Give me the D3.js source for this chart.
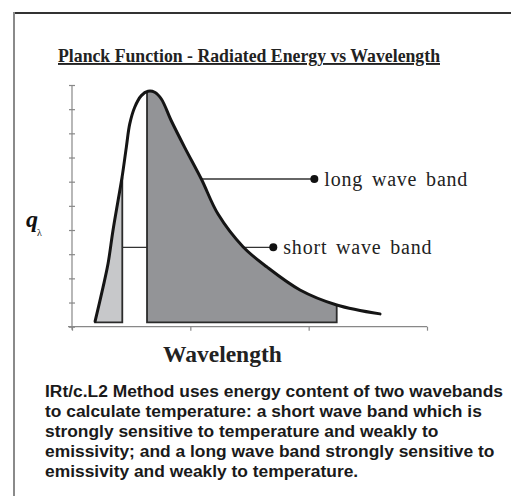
<!DOCTYPE html>
<html>
<head>
<meta charset="utf-8">
<script src="https://cdn.jsdelivr.net/npm/d3@7"></script>
<style>
  html, body { margin: 0; padding: 0; background: #fff; }
  svg { display: block; }
</style>
</head>
<body>
<svg id="chart" width="511" height="496"></svg>
<script>
// ---- data (arbitrary units) ----
const curveX = [0.195, 0.262, 0.304, 0.346, 0.389, 0.423, 0.459, 0.488, 0.530, 0.586, 0.642, 0.699, 0.755, 0.839, 0.952, 1.093, 1.234, 1.445, 1.645, 1.927, 2.237, 2.603];
const curveY = [0.22, 1.63, 2.59, 3.97, 5.21, 6.18, 7.42, 8.39, 9.08, 9.56, 9.74, 9.70, 9.42, 8.52, 7.42, 6.11, 4.66, 3.31, 2.48, 1.52, 0.90, 0.53];
const bandNames = ["short wave band", "long wave band"];
const bandStart = [0.195, 0.634];
const bandEnd = [0.425, 2.237];
const bandStartTop = [0.22, 9.74];
const bandEndTop = [6.18, 0.90];
const bandBase = 0.18;
const labelY = [3.285, 6.11];      // leader line level
const labelDotX = [1.701, 2.048];  // dot position
const xTicks = [0, 1, 2, 3];
const yTicks = [0, 1, 2, 3, 4, 5, 6, 7, 8, 9, 10];
const titleText = "Planck Function - Radiated Energy vs Wavelength";
const xLabel = "Wavelength";
const yLabelMain = "q";
const yLabelSub = "λ";
const caption = [
  "IRt/c.L2 Method uses energy content of two wavebands",
  "to calculate temperature: a short wave band which is",
  "strongly sensitive to temperature and weakly to",
  "emissivity; and a long wave band strongly sensitive to",
  "emissivity and weakly to temperature."
];

// ---- drawing ----
const svg = d3.select("#chart");
const x = d3.scaleLinear().domain([0, 3]).range([72, 427]);
const y = d3.scaleLinear().domain([0, 10]).range([326.7, 85]);
const pts = curveX.map((v, i) => [v, curveY[i]]);

// frame
svg.append("line").attr("x1", 14).attr("x2", 511).attr("y1", 13).attr("y2", 13)
  .attr("stroke", "#333").attr("stroke-width", 2);
svg.append("line").attr("x1", 14).attr("x2", 14).attr("y1", 12).attr("y2", 496)
  .attr("stroke", "#8a8a8a").attr("stroke-width", 2);

// title
svg.append("text").attr("x", 58).attr("y", 62)
  .attr("font-family", "Liberation Serif, Times New Roman, serif")
  .attr("font-weight", "bold").attr("font-size", 19)
  .attr("textLength", 382).attr("lengthAdjust", "spacingAndGlyphs")
  .attr("text-decoration", "underline").attr("fill", "#222")
  .text(titleText);

// axes
const yAxis = svg.append("g").attr("transform", `translate(${x(0)},0)`)
  .call(d3.axisLeft(y).tickValues(yTicks).tickSize(6).tickSizeOuter(0).tickFormat(""));
yAxis.selectAll(".tick line").attr("x1", 3).attr("x2", -3);
yAxis.selectAll("line, path").attr("stroke", "#888").attr("stroke-width", 1.2);
yAxis.select(".domain").attr("d", `M0,${y(10)}V${y(0) + 3}`);

const xAxis = svg.append("g").attr("transform", `translate(0,${y(0)})`)
  .call(d3.axisBottom(x).tickValues(xTicks).tickSize(4).tickSizeOuter(0).tickFormat(""));
xAxis.selectAll("line, path").attr("stroke", "#888").attr("stroke-width", 1.2);
xAxis.select(".domain").attr("d", `M${x(0) - 4},0H${x(3)}`);

const curveGen = d3.line().x(d => x(d[0])).y(d => y(d[1])).curve(d3.curveCatmullRom.alpha(0.5));
const areaGen = d3.area().x(d => x(d[0])).y0(y(bandBase)).y1(d => y(d[1])).curve(d3.curveCatmullRom.alpha(0.5));
const defs = svg.append("defs");
const fills = ["#c7c8ca", "#939497"];

function drawBand(i) {
  const cid = "clip" + i;
  defs.append("clipPath").attr("id", cid).append("rect")
    .attr("x", x(bandStart[i])).attr("width", x(bandEnd[i]) - x(bandStart[i]))
    .attr("y", 0).attr("height", y(bandBase));
  svg.append("path").datum(pts).attr("d", areaGen)
    .attr("fill", fills[i]).attr("clip-path", `url(#${cid})`);
  const outline = d3.line()([
    [x(bandStart[i]), y(bandStartTop[i])],
    [x(bandStart[i]), y(bandBase)],
    [x(bandEnd[i]), y(bandBase)],
    [x(bandEnd[i]), y(bandEndTop[i])]
  ]);
  svg.append("path").attr("d", outline).attr("fill", "none")
    .attr("stroke", "#2b2b2b").attr("stroke-width", 1.8);
}

// short band
drawBand(0);
// leader lines (under long band fill)
bandNames.forEach((n, i) => {
  svg.append("line")
    .attr("x1", x(i === 0 ? bandEnd[0] : bandStart[1])).attr("x2", x(labelDotX[i]))
    .attr("y1", y(labelY[i])).attr("y2", y(labelY[i]))
    .attr("stroke", "#333").attr("stroke-width", 1.3);
});
// long band
drawBand(1);

// curve
svg.append("path").datum(pts).attr("d", curveGen)
  .attr("fill", "none").attr("stroke", "#151515").attr("stroke-width", 3)
  .attr("stroke-linecap", "round");

// dots and labels
bandNames.forEach((n, i) => {
  svg.append("circle").attr("cx", x(labelDotX[i])).attr("cy", y(labelY[i]))
    .attr("r", 4).attr("fill", "#111");
  svg.append("text").attr("x", x(labelDotX[i]) + 10).attr("y", y(labelY[i]) + 6.5)
    .attr("font-family", "Liberation Serif, Times New Roman, serif")
    .attr("font-size", 20).attr("fill", "#222")
    .attr("letter-spacing", 0.8).attr("word-spacing", 3)
    .text(n);
});

// y label
svg.append("text").attr("x", 26).attr("y", 227)
  .attr("font-family", "Liberation Serif, Times New Roman, serif")
  .attr("font-weight", "bold").attr("font-style", "italic")
  .attr("font-size", 24).attr("fill", "#111").text(yLabelMain);
svg.append("text").attr("x", 37).attr("y", 236)
  .attr("font-family", "Liberation Serif, Times New Roman, serif")
  .attr("font-size", 10).attr("fill", "#111").text(yLabelSub);

// x label
svg.append("text").attr("x", 163).attr("y", 361.5)
  .attr("font-family", "Liberation Serif, Times New Roman, serif")
  .attr("font-weight", "bold").attr("font-size", 23.5).attr("fill", "#222")
  .text(xLabel);

// caption
svg.append("g").selectAll("text").data(caption).join("text")
  .attr("x", 45).attr("y", (d, i) => 397 + i * 20)
  .attr("font-family", "Liberation Sans, Arial, Helvetica, sans-serif")
  .attr("font-weight", "bold").attr("font-size", 17.4).attr("fill", "#1a1a1a")
  .text(d => d);
</script>
</body>
</html>
